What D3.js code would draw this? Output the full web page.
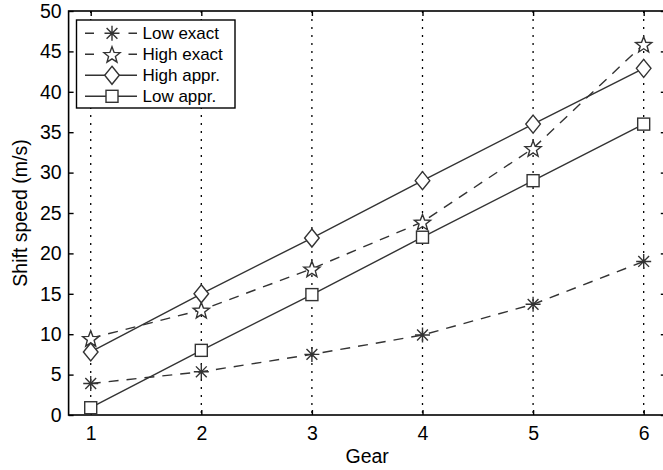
<!DOCTYPE html>
<html><head><meta charset="utf-8">
<script src="https://cdn.jsdelivr.net/npm/d3@7"></script>
<style>body{margin:0;background:#fff}svg{display:block}text{font-family:"Liberation Sans",Arial,sans-serif;fill:#000}</style>
</head><body><svg id="c" width="663" height="470"></svg>
<script>
const gears = [1, 2, 3, 4, 5, 6];
const lowExact = [3.9, 5.35, 7.5, 9.9, 13.7, 19.0];
const highExact = [9.5, 13.0, 18.1, 23.9, 33.0, 45.9];
const highAppr = [7.8, 15.0, 21.9, 29.0, 36.0, 42.9];
const lowAppr = [0.9, 8.0, 14.9, 22.0, 29.0, 36.0];
const yTicks = [0, 5, 10, 15, 20, 25, 30, 35, 40, 45, 50];
const seriesNames = ["Low exact", "High exact", "High appr.", "Low appr."];

const series = [
  {name: seriesNames[0], values: lowExact, dash: "10,8", marker: "asterisk"},
  {name: seriesNames[1], values: highExact, dash: "10,8", marker: "star"},
  {name: seriesNames[2], values: highAppr, dash: null, marker: "diamond"},
  {name: seriesNames[3], values: lowAppr, dash: null, marker: "square"}
];

const svg = d3.select("#c");
const L = 68.6, R = 665.8, T = 11, B = 415;
const x = d3.scaleLinear().domain([0.8, 6.2]).range([L, R]);
const y = d3.scaleLinear().domain([0, 50]).range([B, T]);
const col = "#333";
const FS = 19.5;

// grid (vertical dotted)
svg.append("g").selectAll("line").data(gears).join("line")
  .attr("x1", d => x(d)).attr("x2", d => x(d)).attr("y1", T).attr("y2", B)
  .attr("stroke", "#000").attr("stroke-width", 1.3).attr("stroke-dasharray", "2,6");

// axes
const ax = d3.axisBottom(x).tickValues(gears).tickSize(-5).tickPadding(11).tickFormat(d3.format("d"));
const gx = svg.append("g").attr("transform", `translate(0,${B})`).call(ax);
const gxt = svg.append("g").attr("transform", `translate(0,${T})`).call(d3.axisTop(x).tickValues(gears).tickSize(-5).tickFormat(""));
const ay = d3.axisLeft(y).tickValues(yTicks).tickSize(-5).tickPadding(7);
const gy = svg.append("g").attr("transform", `translate(${L},0)`).call(ay);
const gyr = svg.append("g").attr("transform", `translate(${R},0)`).call(d3.axisRight(y).tickValues(yTicks).tickSize(-5).tickFormat(""));
[gx, gxt, gy, gyr].forEach(g => {
  g.select(".domain").remove();
  g.attr("font-size", FS).attr("font-family", "Liberation Sans, Arial, sans-serif");
  g.selectAll("line").attr("stroke", "#000").attr("stroke-width", 1.4);
  g.selectAll("text").attr("font-size", FS).attr("fill", "#000");
});
svg.append("rect").attr("x", L).attr("y", T).attr("width", R - L).attr("height", B - T)
  .attr("fill", "none").attr("stroke", "#000").attr("stroke-width", 1.6);

// labels
svg.append("text").attr("x", x(3.5)).attr("y", 463).attr("text-anchor", "middle").attr("font-size", FS).text("Gear");
svg.append("text").attr("transform", `translate(27,${(T + B) / 2}) rotate(-90)`).attr("text-anchor", "middle").attr("font-size", FS).text("Shift speed (m/s)");

function drawMarker(g, type, cx, cy) {
  const s = g.append("g").attr("transform", `translate(${cx},${cy})`).attr("fill", "none").attr("stroke", col).attr("stroke-width", 1.4);
  if (type === "asterisk") {
    const r = 7.5;
    s.append("path").attr("d", `M${-r},0H${r}M0,${-r}V${r}M${-r*0.72},${-r*0.72}L${r*0.72},${r*0.72}M${-r*0.72},${r*0.72}L${r*0.72},${-r*0.72}`);
  } else if (type === "star") {
    const pts = [];
    for (let i = 0; i < 10; i++) {
      const a = -Math.PI / 2 + i * Math.PI / 5;
      const rr = i % 2 === 0 ? 8.5 : 3.6;
      pts.push([rr * Math.cos(a), rr * Math.sin(a) + 1]);
    }
    s.append("path").attr("d", "M" + pts.map(p => p.join(",")).join("L") + "Z").attr("fill", "#fff");
  } else if (type === "diamond") {
    s.append("path").attr("d", "M0,-9L7.3,0L0,9L-7.3,0Z").attr("fill", "#fff");
  } else if (type === "square") {
    s.append("rect").attr("x", -6).attr("y", -6).attr("width", 12).attr("height", 12).attr("fill", "#fff");
  }
}

const line = d3.line().x((d, i) => x(gears[i])).y(d => y(d));
series.forEach(s => {
  svg.append("path").datum(s.values).attr("d", line).attr("fill", "none")
    .attr("stroke", col).attr("stroke-width", 1.4).attr("stroke-dasharray", s.dash);
});
series.forEach(s => {
  const g = svg.append("g");
  s.values.forEach((v, i) => drawMarker(g, s.marker, x(gears[i]), y(v)));
});

// legend
const lg = svg.append("g");
lg.append("rect").attr("x", 76.5).attr("y", 20).attr("width", 158.5).attr("height", 88)
  .attr("fill", "#fff").attr("stroke", "#000").attr("stroke-width", 1.4);
series.forEach((s, i) => {
  const yy = 33.3 + i * 21;
  if (s.dash) {
    lg.append("path").attr("d", `M85,${yy}H94M128.5,${yy}H137`).attr("stroke", col).attr("stroke-width", 1.4);
  } else {
    lg.append("line").attr("x1", 85).attr("x2", 137).attr("y1", yy).attr("y2", yy)
      .attr("stroke", col).attr("stroke-width", 1.4);
  }
  drawMarker(lg, s.marker, 112, yy);
  lg.append("text").attr("x", 142.5).attr("y", yy + 6).attr("font-size", 17).text(s.name);
});
</script></body></html>
